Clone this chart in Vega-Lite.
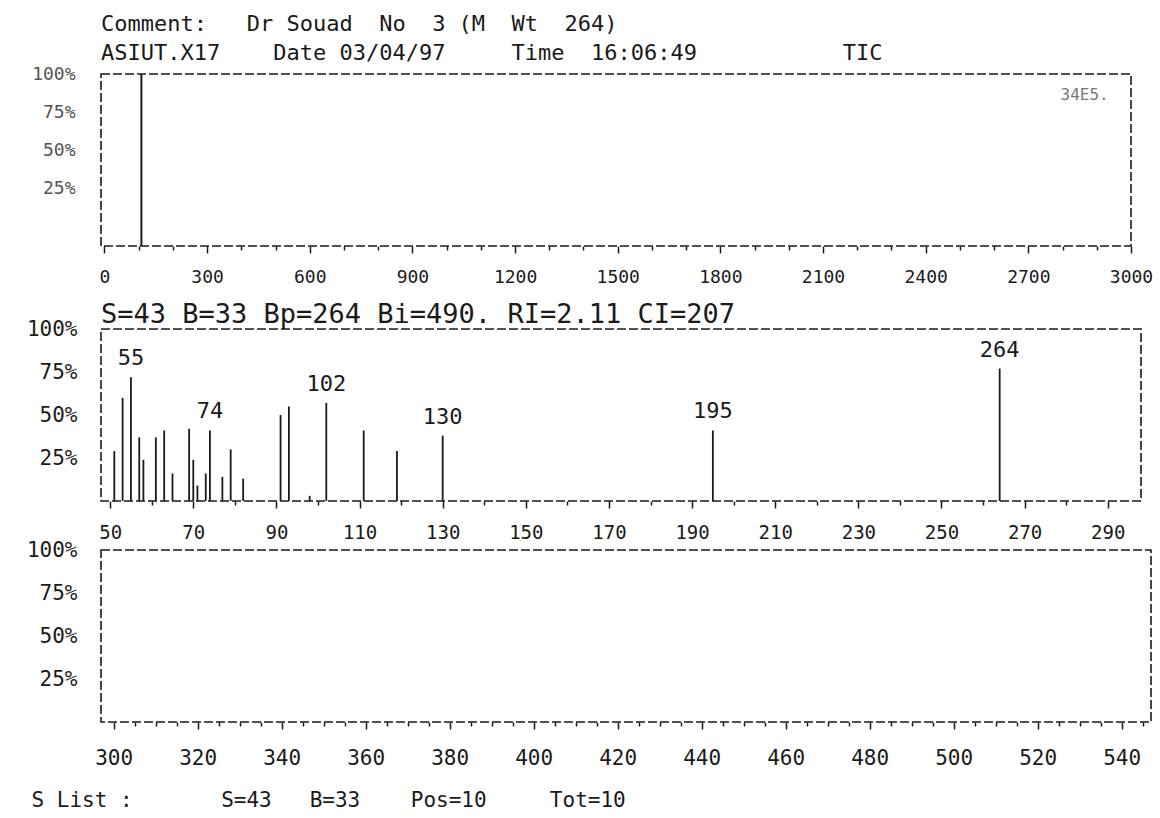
{
  "$schema": "https://vega.github.io/schema/vega-lite/v6.json",
  "background": "white",
  "padding": {"left": 25, "top": 12, "right": 5, "bottom": 2},
  "config": {
    "font": "DejaVu Sans Mono",
    "view": {"stroke": "#1a1a1a", "strokeWidth": 1.6, "strokeDash": [9, 3]},
    "axis": {"labelFont": "DejaVu Sans Mono", "labelColor": "#1a1a1a", "titleFont": "DejaVu Sans Mono", "titleColor": "#1a1a1a", "titleFontWeight": "normal", "domain": false, "grid": false, "tickColor": "#1a1a1a", "tickWidth": 1.5, "labelOverlap": false},
    "title": {"font": "DejaVu Sans Mono", "anchor": "start", "frame": "group", "color": "#1a1a1a", "fontWeight": "normal"}
  },
  "spacing": -5,
  "datasets": {
    "tic": [{"scan": 108, "pct": 100}],
    "ms": [
      {"mz": 51, "pct": 29, "label": ""},
      {"mz": 53, "pct": 60, "label": ""},
      {"mz": 55, "pct": 72, "label": "55"},
      {"mz": 57, "pct": 37, "label": ""},
      {"mz": 58, "pct": 24, "label": ""},
      {"mz": 61, "pct": 37, "label": ""},
      {"mz": 63, "pct": 41, "label": ""},
      {"mz": 65, "pct": 16, "label": ""},
      {"mz": 69, "pct": 42, "label": ""},
      {"mz": 70, "pct": 24, "label": ""},
      {"mz": 71, "pct": 9, "label": ""},
      {"mz": 73, "pct": 16, "label": ""},
      {"mz": 74, "pct": 41, "label": "74"},
      {"mz": 77, "pct": 14, "label": ""},
      {"mz": 79, "pct": 30, "label": ""},
      {"mz": 82, "pct": 13, "label": ""},
      {"mz": 91, "pct": 50, "label": ""},
      {"mz": 93, "pct": 55, "label": ""},
      {"mz": 98, "pct": 3, "label": ""},
      {"mz": 102, "pct": 57, "label": "102"},
      {"mz": 111, "pct": 41, "label": ""},
      {"mz": 119, "pct": 29, "label": ""},
      {"mz": 130, "pct": 38, "label": "130"},
      {"mz": 195, "pct": 41, "label": "195"},
      {"mz": 264, "pct": 77, "label": "264"}
    ],
    "empty": [{"mz": 300, "pct": 0}]
  },
  "vconcat": [
    {
      "width": 1030,
      "height": 172,
      "title": {
        "text": ["Comment:\u00a0\u00a0\u00a0Dr\u00a0Souad\u00a0\u00a0No\u00a0\u00a03\u00a0(M\u00a0\u00a0Wt\u00a0\u00a0264)", "ASIUT.X17\u00a0\u00a0\u00a0\u00a0Date\u00a003/04/97\u00a0\u00a0\u00a0\u00a0\u00a0Time\u00a0\u00a016:06:49\u00a0\u00a0\u00a0\u00a0\u00a0\u00a0\u00a0\u00a0\u00a0\u00a0\u00a0TIC"],
        "fontSize": 22,
        "lineHeight": 29,
        "offset": 0
      },
      "data": {"name": "tic"},
      "encoding": {
        "x": {"field": "scan", "type": "quantitative", "scale": {"domain": [-10, 3000], "nice": false},
          "axis": {"title": "\u00a0", "titleFontSize": 10, "titlePadding": 8, "values": [0,100,200,300,400,500,600,700,800,900,1000,1100,1200,1300,1400,1500,1600,1700,1800,1900,2000,2100,2200,2300,2400,2500,2600,2700,2800,2900,3000],
            "labelExpr": "datum.value % 300 === 0 ? format(datum.value, 'd') : ''",
            "labelFontSize": 18, "labelPadding": 15, "labelFlush": false, "labelOverlap": false,
            "tickSize": {"condition": {"test": "datum.value % 300 === 0", "value": 7}, "value": 4}}},
        "y": {"field": "pct", "type": "quantitative", "scale": {"domain": [-13, 100], "nice": false, "zero": false},
          "axis": {"title": null, "values": [25, 50, 75, 100], "labelExpr": "datum.value + '%'", "ticks": false, "labelFontSize": 18, "labelPadding": 26, "labelColor": "#555"}}
      },
      "layer": [
        {
          "mark": {"type": "rule", "color": "#1a1a1a", "strokeWidth": 2},
          "encoding": {"y2": {"datum": -13}}
        },
        {
          "mark": {"type": "text", "fontSize": 16, "color": "#777", "align": "right", "baseline": "middle"},
          "encoding": {
            "x": {"datum": 2935},
            "y": {"datum": 86},
            "text": {"value": "34E5."}
          }
        }
      ]
    },
    {
      "width": 1040,
      "height": 172,
      "title": {"text": "S=43 B=33 Bp=264 Bi=490. RI=2.11 CI=207", "fontSize": 27, "offset": -11},
      "data": {"name": "ms"},
      "layer": [
        {
          "mark": {"type": "rule", "color": "#1a1a1a", "strokeWidth": 1.8},
          "encoding": {
            "x": {"field": "mz", "type": "quantitative", "scale": {"domain": [47.8, 298], "nice": false, "zero": false},
              "axis": {"title": null, "values": [50,55,60,65,70,75,80,85,90,95,100,105,110,115,120,125,130,135,140,145,150,155,160,165,170,175,180,185,190,195,200,205,210,215,220,225,230,235,240,245,250,255,260,265,270,275,280,285,290,295],
                "labelExpr": "(datum.value - 50) % 20 === 0 ? format(datum.value, 'd') : ''",
                "labelFontSize": 19, "labelPadding": 15, "labelFlush": false, "labelOverlap": false,
                "tickSize": {"condition": {"test": "(datum.value - 50) % 20 === 0", "value": 7}, "value": 4}}},
            "y": {"field": "pct", "type": "quantitative", "scale": {"domain": [0, 100], "nice": false},
              "axis": {"title": null, "values": [25, 50, 75, 100], "labelExpr": "datum.value + '%'", "ticks": false, "labelFontSize": 21, "labelPadding": 24}},
            "y2": {"datum": 0}
          }
        },
        {
          "mark": {"type": "text", "fontSize": 22, "color": "#1a1a1a", "baseline": "bottom", "dy": -7},
          "encoding": {
            "x": {"field": "mz", "type": "quantitative"},
            "y": {"field": "pct", "type": "quantitative"},
            "text": {"field": "label"}
          }
        }
      ]
    },
    {
      "width": 1050,
      "height": 172,
      "data": {"name": "empty"},
      "mark": {"type": "rule", "opacity": 0},
      "encoding": {
        "x": {"field": "mz", "type": "quantitative", "scale": {"domain": [297, 547], "nice": false, "zero": false},
          "axis": {"title": "S List :\u00a0\u00a0\u00a0\u00a0\u00a0\u00a0\u00a0S=43\u00a0\u00a0\u00a0B=33\u00a0\u00a0\u00a0\u00a0Pos=10\u00a0\u00a0\u00a0\u00a0\u00a0Tot=10",
            "titleFontSize": 21, "titleAnchor": "start", "titleAlign": "left", "titleX": -70, "titleY": 78, "titleBaseline": "middle",
            "values": [300,305,310,315,320,325,330,335,340,345,350,355,360,365,370,375,380,385,390,395,400,405,410,415,420,425,430,435,440,445,450,455,460,465,470,475,480,485,490,495,500,505,510,515,520,525,530,535,540,545],
            "labelExpr": "datum.value % 20 === 0 ? format(datum.value, 'd') : ''",
            "labelFontSize": 21, "labelPadding": 18, "labelFlush": false, "labelOverlap": false,
            "tickSize": {"condition": {"test": "datum.value % 20 === 0", "value": 7}, "value": 4}}},
        "y": {"field": "pct", "type": "quantitative", "scale": {"domain": [0, 100], "nice": false},
          "axis": {"title": null, "values": [25, 50, 75, 100], "labelExpr": "datum.value + '%'", "ticks": false, "labelFontSize": 21, "labelPadding": 24}},
        "y2": {"datum": 0}
      }
    }
  ]
}
